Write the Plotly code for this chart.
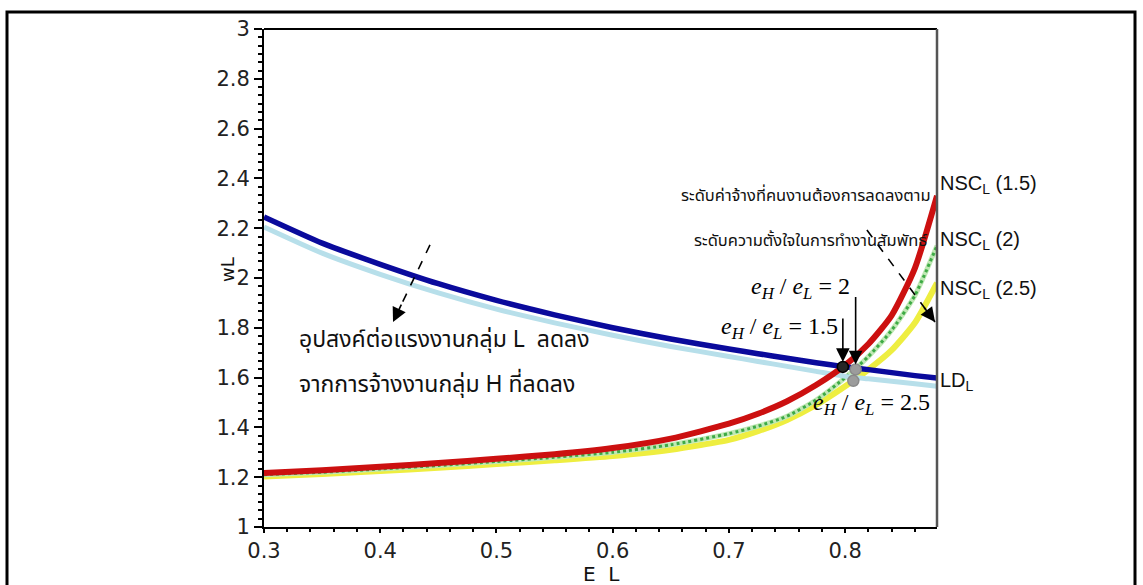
import plotly.graph_objects as go

# Employment of group L (E L) on the horizontal axis
e_l = [0.30, 0.35, 0.40, 0.45, 0.50, 0.55, 0.60, 0.65, 0.70, 0.725, 0.75, 0.775, 0.80, 0.82, 0.84, 0.86, 0.879]

# No-shirking conditions for e_H/e_L = 1.5, 2, 2.5
nsc_15 = [1.217, 1.228, 1.242, 1.257, 1.274, 1.292, 1.317, 1.355, 1.415, 1.455, 1.505, 1.57, 1.65, 1.735, 1.85, 2.04, 2.33]
nsc_2 = [1.21, 1.22, 1.233, 1.247, 1.263, 1.28, 1.30, 1.33, 1.375, 1.405, 1.445, 1.51, 1.60, 1.685, 1.79, 1.93, 2.13]
nsc_25 = [1.203, 1.213, 1.225, 1.238, 1.253, 1.268, 1.285, 1.31, 1.35, 1.385, 1.43, 1.49, 1.565, 1.632, 1.71, 1.82, 1.98]

# Labour demand for group L, before and after the fall in H employment
ld_high = [2.245, 2.14, 2.055, 1.977, 1.91, 1.852, 1.80, 1.755, 1.715, 1.696, 1.678, 1.66, 1.643, 1.632, 1.62, 1.608, 1.598]
ld_low = [2.205, 2.10, 2.015, 1.94, 1.875, 1.82, 1.77, 1.725, 1.685, 1.665, 1.645, 1.625, 1.605, 1.595, 1.585, 1.575, 1.565]

# Equilibrium points
eq_x = [0.798, 0.809, 0.807]
eq_y = [1.643, 1.633, 1.587]
eq_colors = ["#262626", "#9c9c9c", "#9c9c9c"]

x_ticks = [0.3, 0.4, 0.5, 0.6, 0.7, 0.8]
y_ticks = [1, 1.2, 1.4, 1.6, 1.8, 2, 2.2, 2.4, 2.6, 2.8, 3]

X_RANGE = [0.3, 0.879]
Y_RANGE = [1, 3]

W, H = 1143, 585
ML, MR, MT, MB = 264, 206, 29, 58
PW, PH = W - ML - MR, H - MT - MB

THAI = "Tahoma, 'Noto Sans Thai', 'Noto Sans Thai UI', 'Noto Sans', sans-serif"
SANS = "'Liberation Sans', Arial, sans-serif"
SERIF = "'Liberation Serif', 'Times New Roman', serif"


def px_x(p):
    return (p - ML) / PW


def px_y(p):
    return (H - MB - p) / PH


fig = go.Figure()

line_style = dict(shape="spline", smoothing=0.6)

fig.add_trace(go.Scatter(x=e_l, y=nsc_25, mode="lines",
                         line=dict(color="#eeee40", width=6, **line_style)))
fig.add_trace(go.Scatter(x=e_l, y=nsc_2, mode="lines",
                         line=dict(color="#bfe8b4", width=5, **line_style)))
fig.add_trace(go.Scatter(x=e_l, y=nsc_2, mode="lines",
                         line=dict(color="#3daa45", width=3, dash="dot", **line_style)))
fig.add_trace(go.Scatter(x=e_l, y=ld_low, mode="lines",
                         line=dict(color="#b7dfea", width=5, **line_style)))
fig.add_trace(go.Scatter(x=e_l, y=nsc_15, mode="lines",
                         line=dict(color="#cc1010", width=6, **line_style)))
fig.add_trace(go.Scatter(x=e_l, y=ld_high, mode="lines",
                         line=dict(color="#0a0a9c", width=5.5, **line_style)))

fig.add_trace(go.Scatter(
    x=eq_x, y=eq_y, mode="markers",
    marker=dict(size=11, color=eq_colors, line=dict(color=["#000", "#8a8a8a", "#8a8a8a"], width=1.5)),
    cliponaxis=False))

annotations = []

# right-hand curve labels
for text, ypx in [("NSC<sub>L</sub> (1.5)", 184), ("NSC<sub>L</sub> (2)", 240),
                  ("NSC<sub>L</sub> (2.5)", 289), ("LD<sub>L</sub>", 381)]:
    annotations.append(dict(xref="paper", yref="paper", x=px_x(938), y=px_y(ypx),
                            xanchor="left", yanchor="middle", text=text, showarrow=False,
                            font=dict(family=SANS, size=20, color="#111")))


# ratio labels
def ratio(v):
    return "<i>e</i><sub><i>H</i></sub> / <i>e</i><sub><i>L</i></sub> = " + v


for v, xpx, ypx in [("2", 749, 288), ("1.5", 719, 328), ("2.5", 811, 404)]:
    annotations.append(dict(xref="paper", yref="paper", x=px_x(xpx), y=px_y(ypx),
                            xanchor="left", yanchor="middle", text=ratio(v), showarrow=False,
                            font=dict(family=SERIF, size=24, color="#000")))

# vertical arrows to the equilibria
annotations.append(dict(x=eq_x[0], y=eq_y[0], ax=0, ay=-50, text="", showarrow=True,
                        arrowhead=2, arrowsize=1.7, arrowwidth=1.6, arrowcolor="#000", standoff=5))
annotations.append(dict(x=eq_x[1], y=eq_y[1], ax=0, ay=-74, text="", showarrow=True,
                        arrowhead=2, arrowsize=1.7, arrowwidth=1.6, arrowcolor="#000", standoff=5))

# dashed arrows: shift of the curves
shapes = []
for (x0, y0), (x1, y1), (hx, hy) in [((0.4428, 2.133), (0.411, 1.823), (9, -19)),
                                     ((0.8187, 2.193), (0.8773, 1.823), (-12, -16))]:
    shapes.append(dict(type="line", x0=x0, y0=y0, x1=x1, y1=y1, xref="x", yref="y",
                       line=dict(color="#000", width=1.6, dash="dash")))
    annotations.append(dict(x=x1, y=y1, ax=hx, ay=hy, text="", showarrow=True,
                            arrowhead=2, arrowsize=1.8, arrowwidth=1.6, arrowcolor="#000"))

# Thai explanatory text
right_font = dict(family=THAI, size=16.5, color="#111")
left_font = dict(family=THAI, size=23, color="#111")
annotations += [
    dict(xref="paper", yref="paper", x=px_x(806), y=px_y(196), xanchor="center", yanchor="middle",
         text="ระดับค่าจ้างที่คนงานต้องการลดลงตาม", showarrow=False, font=right_font),
    dict(xref="paper", yref="paper", x=px_x(810), y=px_y(241), xanchor="center", yanchor="middle",
         text="ระดับความตั้งใจในการทำงานสัมพัทธ์", showarrow=False, font=right_font),
    dict(xref="paper", yref="paper", x=px_x(297), y=px_y(340), xanchor="left", yanchor="middle",
         text="อุปสงค์ต่อแรงงานกลุ่ม L  ลดลง", showarrow=False, font=left_font),
    dict(xref="paper", yref="paper", x=px_x(297), y=px_y(385), xanchor="left", yanchor="middle",
         text="จากการจ้างงานกลุ่ม H ที่ลดลง", showarrow=False, font=left_font),
]

# axis titles
annotations.append(dict(xref="paper", yref="paper", x=px_x(227), y=px_y(270), text="wL",
                        textangle=-90, showarrow=False, xanchor="center", yanchor="middle",
                        font=dict(family="DejaVu Sans", size=18, color="#111")))
annotations.append(dict(xref="paper", yref="paper", x=px_x(601), y=px_y(588), text="E  L",
                        showarrow=False, xanchor="center", yanchor="bottom",
                        font=dict(family="DejaVu Sans", size=20, color="#111")))

# frame: top and right of the plot, outer box
shapes += [
    dict(type="line", xref="paper", yref="paper", x0=0, x1=1, y0=1, y1=1,
         line=dict(color="#000", width=2)),
    dict(type="line", xref="paper", yref="paper", x0=1, x1=1, y0=0, y1=1,
         line=dict(color="#555", width=2.5)),
    dict(type="rect", xref="paper", yref="paper", x0=px_x(7), x1=px_x(1135),
         y0=px_y(610), y1=px_y(12), line=dict(color="#000", width=3)),
]

tick_font = dict(family="DejaVu Sans", size=21, color="#222")

fig.update_layout(
    width=W, height=H,
    margin=dict(l=ML, r=MR, t=MT, b=MB, pad=0),
    paper_bgcolor="white", plot_bgcolor="white",
    showlegend=False,
    annotations=annotations,
    shapes=shapes,
    xaxis=dict(range=X_RANGE, tickvals=x_ticks, ticktext=[f"{v:g}" for v in x_ticks],
               showgrid=False, zeroline=False, showline=True, linecolor="#000", linewidth=2,
               ticks="outside", ticklen=4, tickwidth=1.5, tickcolor="#000",
               tickfont=tick_font,
               minor=dict(dtick=0.02, tick0=0.3, ticks="outside", ticklen=3,
                          tickwidth=1.5, tickcolor="#000")),
    yaxis=dict(range=Y_RANGE, tickvals=y_ticks, ticktext=[f"{v:g}" for v in y_ticks],
               showgrid=False, zeroline=False, showline=True, linecolor="#000", linewidth=2,
               ticks="outside", ticklen=8, tickwidth=1.5, tickcolor="#000",
               tickfont=tick_font,
               minor=dict(dtick=0.2 / 6, tick0=1, ticks="outside", ticklen=4,
                          tickwidth=1.5, tickcolor="#000")),
)

fig.write_html("out.html")
